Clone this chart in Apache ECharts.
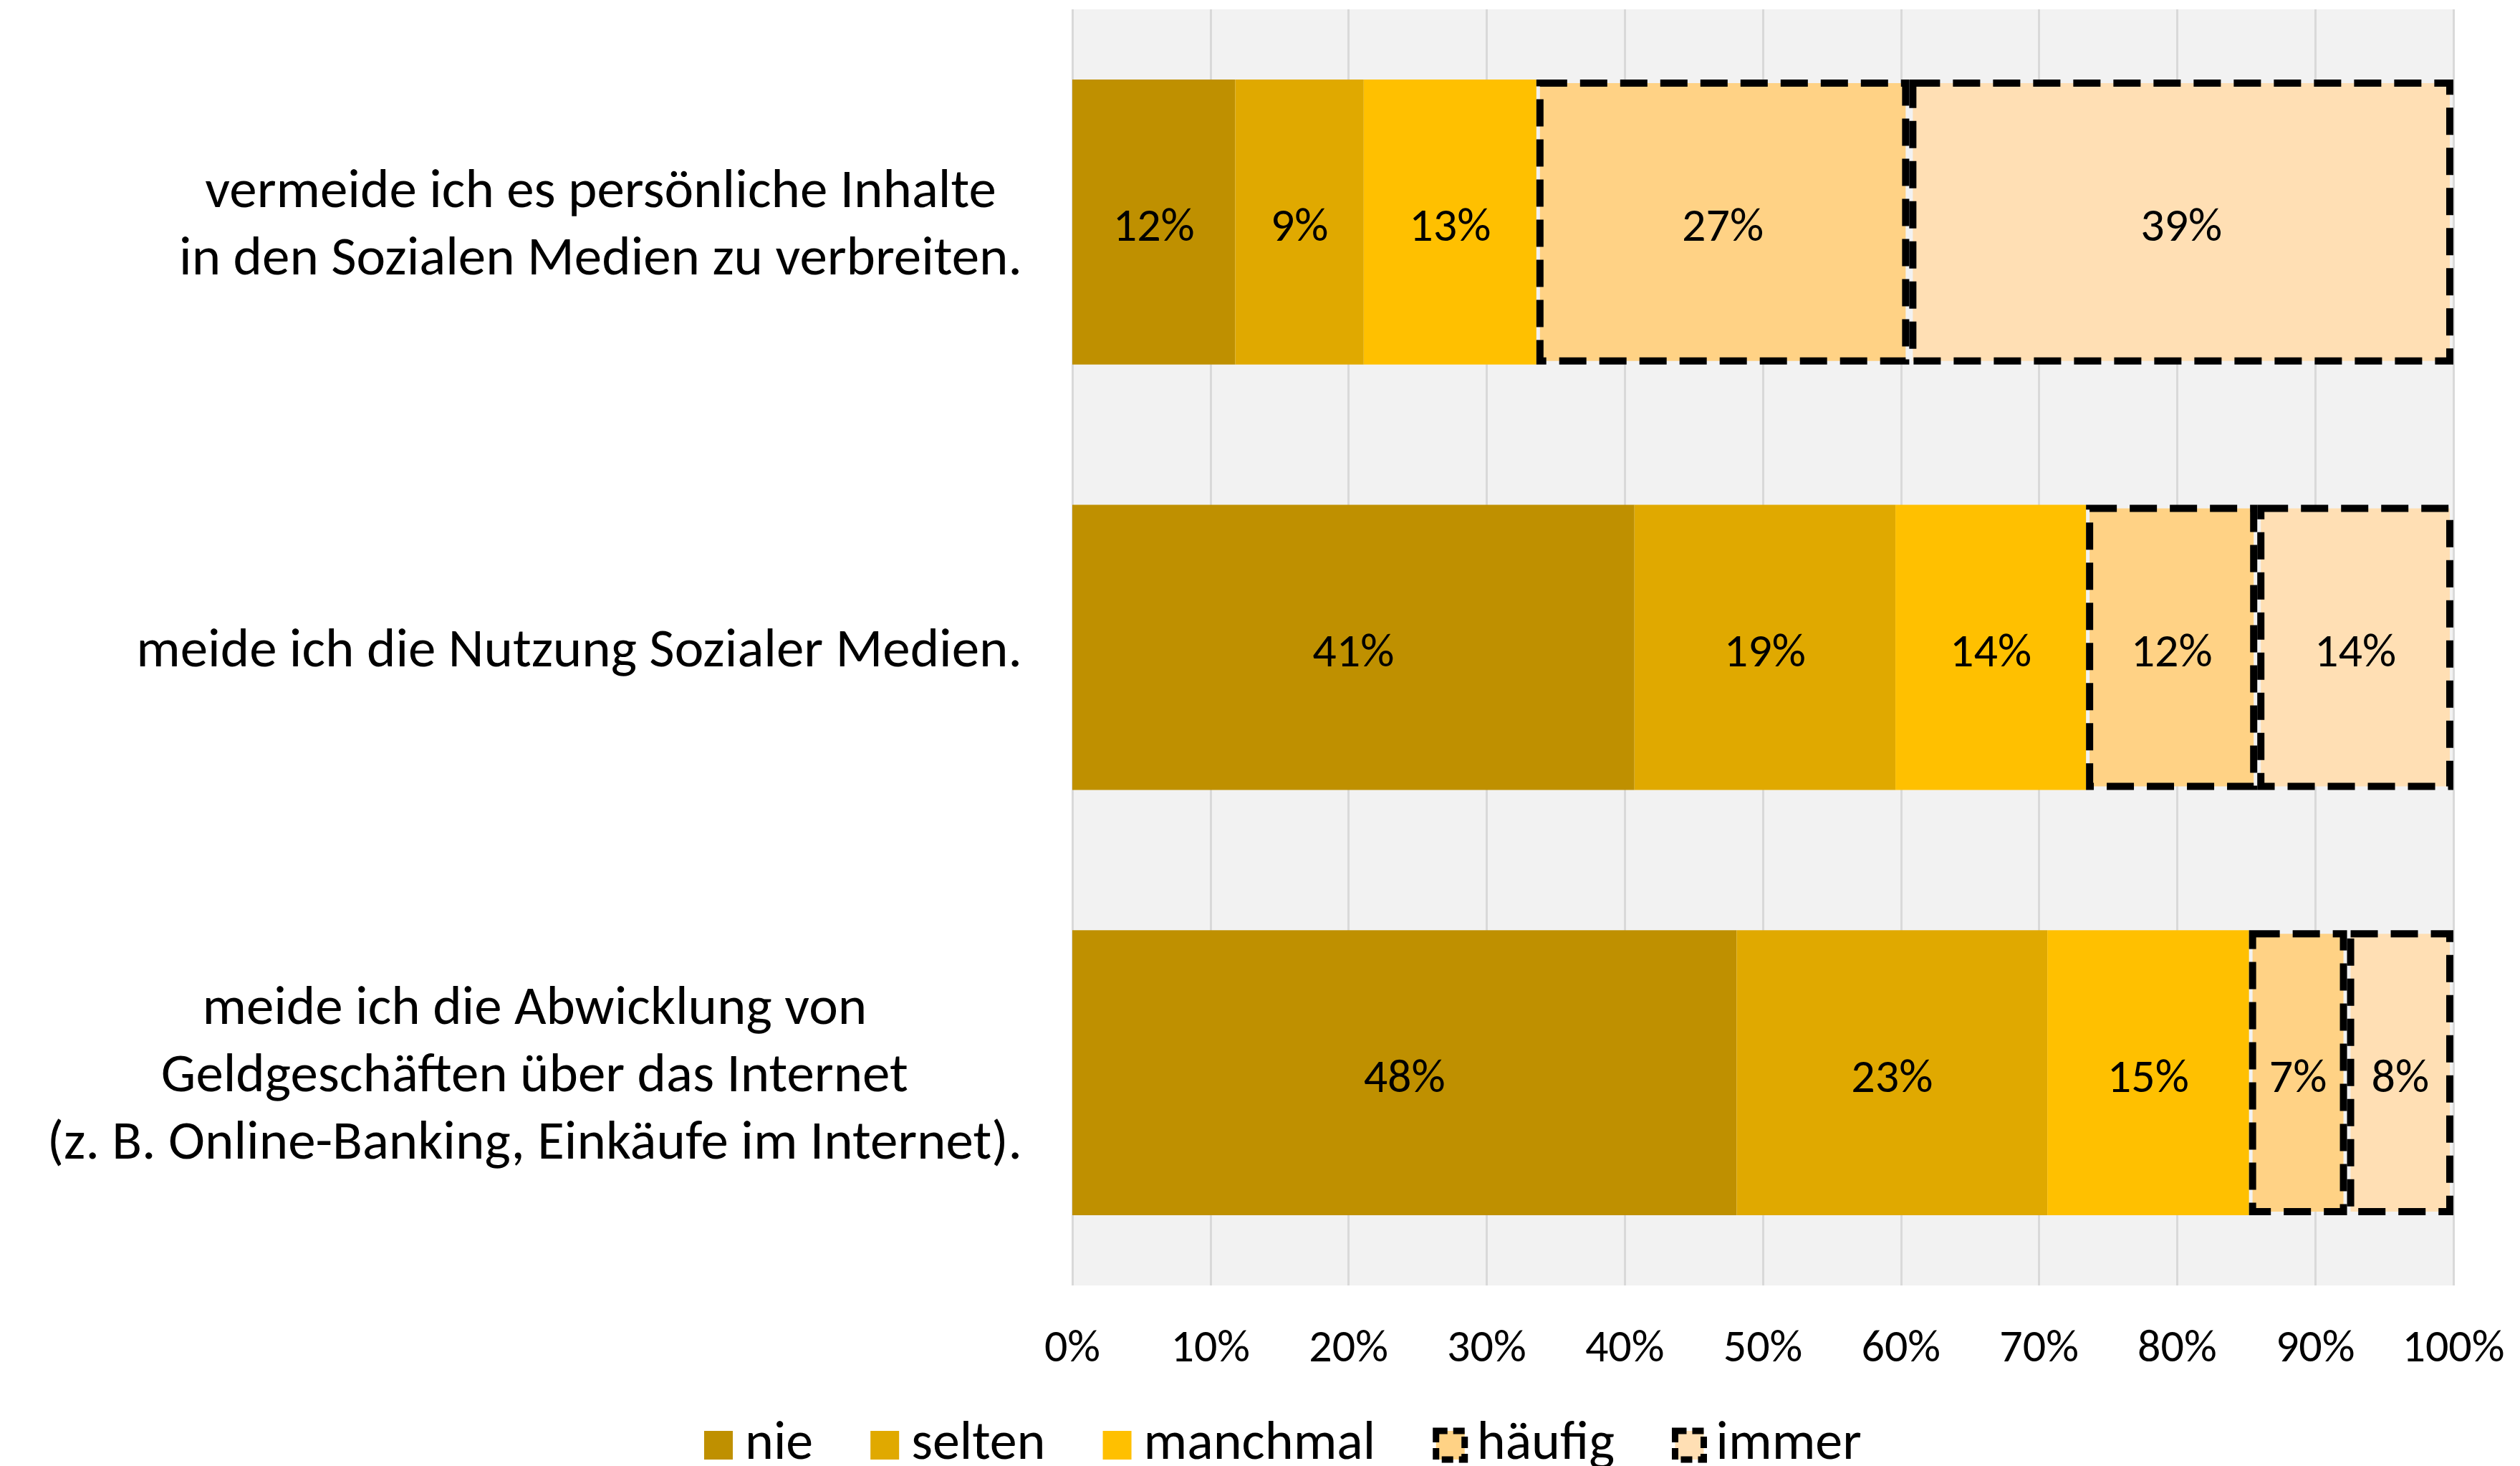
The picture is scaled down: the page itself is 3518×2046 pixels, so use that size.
<!DOCTYPE html>
<html>
<head>
<meta charset="utf-8">
<script src="https://cdn.jsdelivr.net/npm/echarts@6/dist/echarts.min.js"></script>
<style>
    html, body { margin: 0; padding: 0; background: #fff; }
    #chart { width: 3518px; height: 2046px; }
</style>
</head>
<body>
<div id="chart"></div>
<script>
const categories = [
    "vermeide ich es persönliche Inhalte\nin den Sozialen Medien zu verbreiten.",
    "meide ich die Nutzung Sozialer Medien.",
    "meide ich die Abwicklung von\nGeldgeschäften über das Internet\n(z. B. Online-Banking, Einkäufe im Internet).",
];
const seriesNames = ["nie", "selten", "manchmal", "häufig", "immer"];
const nieValues = [11.8, 40.7, 48.1];
const seltenValues = [9.3, 18.9, 22.5];
const manchmalValues = [12.5, 13.8, 14.6];
const haeufigValues = [27.0, 12.4, 7.1];
const immerValues = [39.4, 14.2, 7.7];
const xTicks = { min: 0, max: 100, interval: 10 };

const FONT = "Carlito, Lato, 'Open Sans', sans-serif";
const colors = ["#BF9000", "#E0A900", "#FFC000", "#FFD285", "#FFDFB4"];
const dashedBorder = { borderColor: "#000", borderWidth: 10, borderType: [38, 18] };

const chart = echarts.init(document.getElementById("chart"), null, { renderer: "canvas" });

function makeSeries(name, values, idx, dashed) {
    return {
        name: name,
        type: "bar",
        stack: "total",
        barCategoryGap: "33%",
        data: values,
        itemStyle: Object.assign({ color: colors[idx] }, dashed ? dashedBorder : {}),
        label: {
            show: true,
            position: "inside",
            offset: [0, 10],
            color: "#000",
            fontFamily: FONT,
            fontSize: 66,
            formatter: (p) => Math.round(p.value) + "%",
        },
        emphasis: { disabled: true },
    };
}

const option = {
    animation: false,
    backgroundColor: "#fff",
    grid: {
        left: 1497,
        right: 93,
        top: 13,
        bottom: 252,
        show: true,
        backgroundColor: "#F2F2F2",
        borderWidth: 0,
    },
    legend: {
        left: 978,
        top: 1974,
        itemWidth: 40,
        itemHeight: 40,
        itemGap: 80,
        icon: "rect",
        textStyle: {
            fontFamily: FONT,
            fontSize: 76,
            color: "#000",
            padding: [8, 0, 0, 12],
        },
        data: seriesNames.map((n, i) => i >= 3
            ? { name: n, itemStyle: { color: colors[i], borderColor: "#000", borderWidth: 9, borderType: [16, 8] } }
            : { name: n }),
    },
    xAxis: {
        type: "value",
        min: xTicks.min,
        max: xTicks.max,
        interval: xTicks.interval,
        axisLine: { show: false },
        axisTick: { show: false },
        splitLine: { lineStyle: { color: "#D9D9D9", width: 3 } },
        axisLabel: {
            formatter: "{value}%",
            fontFamily: FONT,
            fontSize: 64,
            color: "#000",
            margin: 58,
        },
    },
    yAxis: {
        type: "category",
        inverse: true,
        data: categories,
        axisLine: { show: false },
        axisTick: { show: false },
        axisLabel: {
            margin: 70,
            padding: [14, 0, 0, 0],
            formatter: (v) => v.split("\n").map((l) => "{c|" + l + "}").join("\n"),
            rich: {
                c: {
                    align: "center",
                    fontFamily: FONT,
                    fontSize: 77,
                    lineHeight: 94,
                    color: "#000",
                },
            },
        },
    },
    series: [
        makeSeries(seriesNames[0], nieValues, 0, false),
        makeSeries(seriesNames[1], seltenValues, 1, false),
        makeSeries(seriesNames[2], manchmalValues, 2, false),
        makeSeries(seriesNames[3], haeufigValues, 3, true),
        makeSeries(seriesNames[4], immerValues, 4, true),
    ],
};

chart.setOption(option);
window.addEventListener("resize", () => chart.resize());
</script>
</body>
</html>
